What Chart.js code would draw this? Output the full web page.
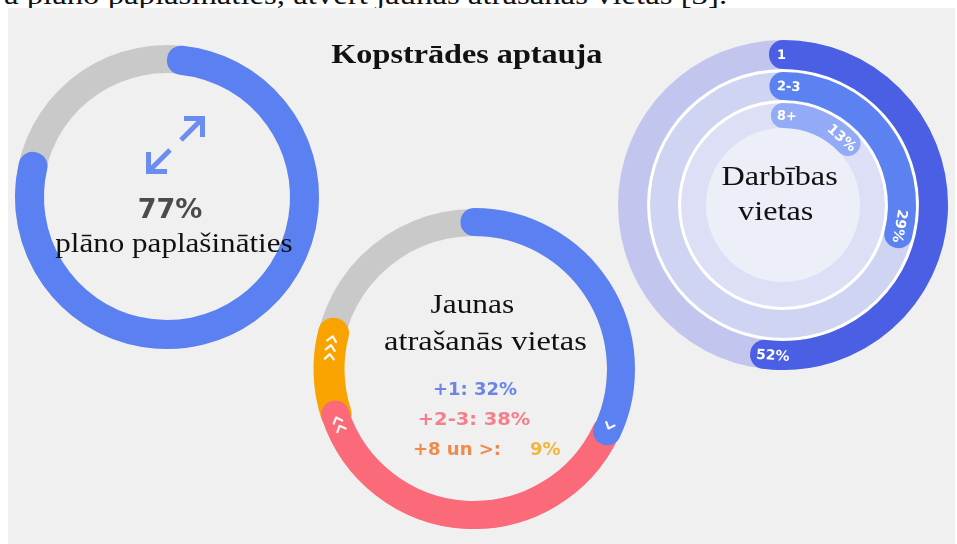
<!DOCTYPE html>
<html>
<head>
<meta charset="utf-8">
<script src="https://cdn.jsdelivr.net/npm/chart.js@4.4.1/dist/chart.umd.min.js"></script>
<style>
html,body{margin:0;padding:0;background:#ffffff;width:957px;height:544px;overflow:hidden;position:relative;}
#panel{position:absolute;left:8px;top:8px;width:947px;height:536px;background:#f0f0f0;z-index:1;}
.t{position:absolute;left:0;top:0;white-space:nowrap;line-height:normal;z-index:4;}
canvas{position:absolute;}
</style>
</head>
<body>
<div id="panel"></div>
<script>
// ---------------- DATA ----------------
const chartTitle = 'Kopstrādes aptauja';
const introText = 'a plāno paplašināties, atvērt jaunas atrašanās vietas [3].';

// Left donut: share of companies planning to expand
const expandLabels = ['plāno paplašināties', 'pārējie'];
const expandValues = [77, 23];

// Middle donut: new locations planned
const newLocTitle = ['Jaunas', 'atrašanās vietas'];
const newLocCategories = ['+1', '+2-3', '+8 un >'];
const newLocValues = [32, 38, 9];

// Right donut: number of operating locations
const siteTitle = ['Darbības', 'vietas'];
const siteCategories = ['1', '2-3', '8+'];
const siteValues = [52, 29, 13];

// ---------------- STYLE ----------------
const TR = 'rgba(0,0,0,0)';
const BLUE = '#5b80f2', GRAY = '#c9c9c9';
const NEWLOC_COLORS = ['#5b80f2', '#fa6a79', '#f9a300'];
const NEWLOC_TEXT = ['#6c84e8', '#f47f8b', '#f08a4b'];
const SITE_ARC = ['#4a5fe3', '#5c82f1', '#93abf6'];
const SITE_TRACK = ['#c2c5ee', '#d0d4f3', '#dcdff6'];
const SITE_INNER = '#eceef8';

function addCanvas(cx, cy, half, z) {
  const c = document.createElement('canvas');
  c.width = half * 2; c.height = half * 2;
  c.style.left = (cx - half) + 'px';
  c.style.top = (cy - half) + 'px';
  c.style.zIndex = z;
  document.body.appendChild(c);
  return c;
}
function opts(radius, inner, rotation) {
  return {
    responsive: false, maintainAspectRatio: false, animation: false, events: [],
    radius: radius, cutout: (inner / radius * 100) + '%',
    rotation: rotation || 0,
    layout: { padding: 0 },
    plugins: { legend: { display: false }, tooltip: { enabled: false } }
  };
}
function placeText(txt, x, baseline, font, color, align, sx, z) {
  const el = document.createElement('div');
  el.className = 't';
  el.style.font = font; el.style.color = color;
  if (z !== undefined) el.style.zIndex = z;
  el.appendChild(document.createTextNode(txt));
  const mk = document.createElement('span');
  mk.style.cssText = 'display:inline-block;width:0;height:0;';
  el.appendChild(mk);
  document.body.appendChild(el);
  const r = el.getBoundingClientRect();
  const m = mk.getBoundingClientRect();
  const off = m.top - r.top;
  const w = r.width;
  const left = align === 'center' ? x - w / 2 : (align === 'right' ? x - w : x);
  el.style.left = left + 'px';
  el.style.top = (baseline - off) + 'px';
  el.style.transformOrigin = align === 'center' ? '50% 0' : (align === 'right' ? '100% 0' : '0 0');
  el.style.transform = 'scaleX(' + (sx || 1) + ')';
  return el;
}
// cumulative helper
function segmentData(values, i) {
  const before = values.slice(0, i).reduce((a, b) => a + b, 0);
  const v = values[i];
  return [before, v, 100 - before - v];
}

// ---------------- LEFT DONUT ----------------
const L = { cx: 167, cy: 197, R: 152, r: 123 };
const arrowPlugin = {
  id: 'arrowIcon',
  afterDraw(chart) {
    const a = chart.getDatasetMeta(0).data[0];
    const x = a.x, y = a.y, ctx = chart.ctx;
    ctx.save();
    ctx.strokeStyle = '#6b8cf0'; ctx.lineWidth = 5; ctx.lineCap = 'butt'; ctx.lineJoin = 'miter';
    // up-right arrow
    ctx.beginPath(); ctx.moveTo(x + 14, y - 57); ctx.lineTo(x + 34, y - 77); ctx.stroke();
    ctx.beginPath(); ctx.moveTo(x + 17, y - 78.5); ctx.lineTo(x + 35.5, y - 78.5); ctx.lineTo(x + 35.5, y - 60); ctx.stroke();
    // down-left arrow
    ctx.beginPath(); ctx.moveTo(x + 3, y - 47); ctx.lineTo(x - 17, y - 27); ctx.stroke();
    ctx.beginPath(); ctx.moveTo(x - 18.5, y - 45); ctx.lineTo(x - 18.5, y - 25.5); ctx.lineTo(x + 0, y - 25.5); ctx.stroke();
    ctx.restore();
  }
};
new Chart(addCanvas(L.cx, L.cy, 165, 2), {
  type: 'doughnut',
  data: { labels: ['track'], datasets: [{ data: [100], backgroundColor: [GRAY], borderWidth: 0 }] },
  options: opts(L.R, L.r + 1),
  plugins: [arrowPlugin]
});
(function () {
  const mid = (L.R + L.r) / 2, w = (L.R - L.r) - 1;
  const capDeg = (w / 2) / mid * 180 / Math.PI;
  new Chart(addCanvas(L.cx, L.cy, 165, 3), {
    type: 'doughnut',
    data: {
      labels: expandLabels,
      datasets: [{
        data: expandValues,
        backgroundColor: [BLUE, TR], borderColor: [BLUE, TR], borderWidth: [w, 0],
        borderJoinStyle: 'round', borderAlign: 'center'
      }]
    },
    options: opts(mid + 0.5, mid - 0.5, capDeg)
  });
})();
placeText(expandValues[0] + '%', 170, 218, 'bold 27px "DejaVu Sans"', '#4b4b4b', 'center', 1);
placeText(expandLabels[0], 174, 252, '28px "Liberation Serif"', '#111', 'center', 1.11);

// ---------------- MIDDLE DONUT ----------------
const M = { cx: 474, cy: 369, R: 160, r: 132 };
new Chart(addCanvas(M.cx, M.cy, 172, 2), {
  type: 'doughnut',
  data: { labels: ['track'], datasets: [{ data: [100], backgroundColor: [GRAY], borderWidth: 0 }] },
  options: opts(M.R, M.r + 1)
});
const chevronPlugin = {
  id: 'chevrons',
  afterDatasetsDraw(chart) {
    const ctx = chart.ctx;
    ctx.save();
    ctx.strokeStyle = 'rgba(255,255,255,0.95)'; ctx.lineWidth = 2.2; ctx.lineCap = 'round'; ctx.lineJoin = 'round';
    chart.data.datasets.forEach((ds, di) => {
      const el = chart.getDatasetMeta(di).data[1];
      const n = di + 1;
      const rm = (el.innerRadius + el.outerRadius) / 2;
      for (let k = 0; k < n; k++) {
        const s = 6 + k * 9; // px back from the end
        const ang = el.endAngle - s / rm;
        const px = el.x + rm * Math.cos(ang), py = el.y + rm * Math.sin(ang);
        const tx = -Math.sin(ang), ty = Math.cos(ang);     // clockwise tangent
        const nx = Math.cos(ang), ny = Math.sin(ang);      // radial
        ctx.beginPath();
        ctx.moveTo(px - 2.5 * tx + 4.5 * nx, py - 2.5 * ty + 4.5 * ny);
        ctx.lineTo(px + 2.5 * tx, py + 2.5 * ty);
        ctx.lineTo(px - 2.5 * tx - 4.5 * nx, py - 2.5 * ty - 4.5 * ny);
        ctx.stroke();
      }
    });
    ctx.restore();
  }
};
(function () {
  const mid = (M.R + M.r) / 2, w = (M.R - M.r) - 1;
  const datasets = newLocCategories.map((c, i) => ({
    label: c,
    data: segmentData(newLocValues, i),
    backgroundColor: [TR, NEWLOC_COLORS[i], TR],
    borderColor: [TR, NEWLOC_COLORS[i], TR],
    borderWidth: [0, w + (i === 2 ? 3 : 0), 0],
    borderJoinStyle: 'round', borderAlign: 'center'
  }));
  new Chart(addCanvas(M.cx, M.cy, 172, 3), {
    type: 'doughnut',
    data: { labels: ['before', 'value', 'after'], datasets: datasets },
    options: opts(mid + 1.5, mid - 1.5),
    plugins: [chevronPlugin]
  });
})();
placeText(newLocTitle[0], 472, 313, '28px "Liberation Serif"', '#111', 'center', 1.12);
placeText(newLocTitle[1], 485, 350, '28px "Liberation Serif"', '#111', 'center', 1.16);
placeText(newLocCategories[0] + ': ' + newLocValues[0] + '%', 475, 395, 'bold 18px "DejaVu Sans"', NEWLOC_TEXT[0], 'center', 1);
placeText(newLocCategories[1] + ': ' + newLocValues[1] + '%', 474, 425, 'bold 18px "DejaVu Sans"', NEWLOC_TEXT[1], 'center', 1.08);
placeText(newLocCategories[2] + ':', 413, 455, 'bold 18px "DejaVu Sans"', NEWLOC_TEXT[2], 'left', 1);
placeText(newLocValues[2] + '%', 530, 455, 'bold 18px "DejaVu Sans"', '#f3b43a', 'left', 1);

// ---------------- RIGHT DONUT ----------------
const Rt = { cx: 783, cy: 205 };
// ring bands (outer, inner) radii
const bands = [[165, 136], [133, 105], [102, 77]];
new Chart(addCanvas(Rt.cx, Rt.cy, 175, 2), {
  type: 'doughnut',
  data: {
    labels: ['ring'],
    datasets: [
      { data: [100], backgroundColor: [SITE_TRACK[0]], borderWidth: 0, weight: bands[0][0] - bands[0][1] },
      { data: [100], backgroundColor: ['#ffffff'], borderWidth: 0, weight: bands[0][1] - bands[1][0] },
      { data: [100], backgroundColor: [SITE_TRACK[1]], borderWidth: 0, weight: bands[1][0] - bands[1][1] },
      { data: [100], backgroundColor: ['#ffffff'], borderWidth: 0, weight: bands[1][1] - bands[2][0] },
      { data: [100], backgroundColor: [SITE_TRACK[2]], borderWidth: 0, weight: bands[2][0] - bands[2][1] },
      { data: [100], backgroundColor: [SITE_INNER], borderWidth: 0, weight: bands[2][1] }
    ]
  },
  options: opts(165, 0)
});
const ringLabelPlugin = {
  id: 'ringLabels',
  afterDatasetsDraw(chart) {
    const ctx = chart.ctx;
    ctx.save();
    ctx.fillStyle = '#ffffff';
    ctx.textBaseline = 'middle';
    chart.data.datasets.forEach((ds, di) => {
      if (ds.siteIndex === undefined) return;
      const i = ds.siteIndex;
      const el = chart.getDatasetMeta(di).data[0];
      const rm = (el.innerRadius + el.outerRadius) / 2;
      // start label (category)
      ctx.font = 'bold 13px "DejaVu Sans"';
      const cw = ctx.measureText(siteCategories[i]).width;
      let ang = el.startAngle + (cw / 2 - 6) / rm;
      ctx.save();
      ctx.translate(el.x + rm * Math.cos(ang), el.y + rm * Math.sin(ang));
      ctx.rotate(ang + Math.PI / 2);
      ctx.textAlign = 'center';
      ctx.fillText(siteCategories[i], 0, 1);
      ctx.restore();
      // end label (value)
      ctx.font = 'bold 14px "DejaVu Sans"';
      const vt = siteValues[i] + '%';
      const vw = ctx.measureText(vt).width;
      ang = el.endAngle - (vw / 2 - 8) / rm;
      let rot = ang + Math.PI / 2;
      if (rot > Math.PI) rot -= Math.PI;
      ctx.save();
      ctx.translate(el.x + rm * Math.cos(ang), el.y + rm * Math.sin(ang));
      ctx.rotate(rot);
      ctx.textAlign = 'center';
      ctx.fillText(vt, 0, 1);
      ctx.restore();
    });
    ctx.restore();
  }
};
(function () {
  const mids = bands.map(b => (b[0] + b[1]) / 2);
  const datasets = [];
  siteCategories.forEach((c, i) => {
    if (i > 0) {
      datasets.push({ data: [100], backgroundColor: [TR], borderWidth: 0, weight: (mids[i - 1] - 0.5) - (mids[i] + 0.5) });
    }
    const w = (bands[i][0] - bands[i][1]) - 1;
    datasets.push({
      label: c, siteIndex: i,
      data: [siteValues[i], 100 - siteValues[i]],
      backgroundColor: [SITE_ARC[i], TR], borderColor: [SITE_ARC[i], TR], borderWidth: [w, 0],
      borderJoinStyle: 'round', borderAlign: 'center', weight: 1
    });
  });
  new Chart(addCanvas(Rt.cx, Rt.cy, 175, 3), {
    type: 'doughnut',
    data: { labels: ['value', 'rest'], datasets: datasets },
    options: opts(mids[0] + 0.5, mids[2] - 0.5),
    plugins: [ringLabelPlugin]
  });
})();
placeText(siteTitle[0], 780, 185, '28px "Liberation Serif"', '#111', 'center', 1.15);
placeText(siteTitle[1], 776, 220, '28px "Liberation Serif"', '#111', 'center', 1.15);

// ---------------- TITLE & INTRO ----------------
placeText(chartTitle, 467, 63, 'bold 28px "Liberation Serif"', '#111', 'center', 1.15);
placeText(introText, 727, 4, '28px "Liberation Serif"', '#111', 'right', 1.17, 0);
</script>
</body>
</html>
